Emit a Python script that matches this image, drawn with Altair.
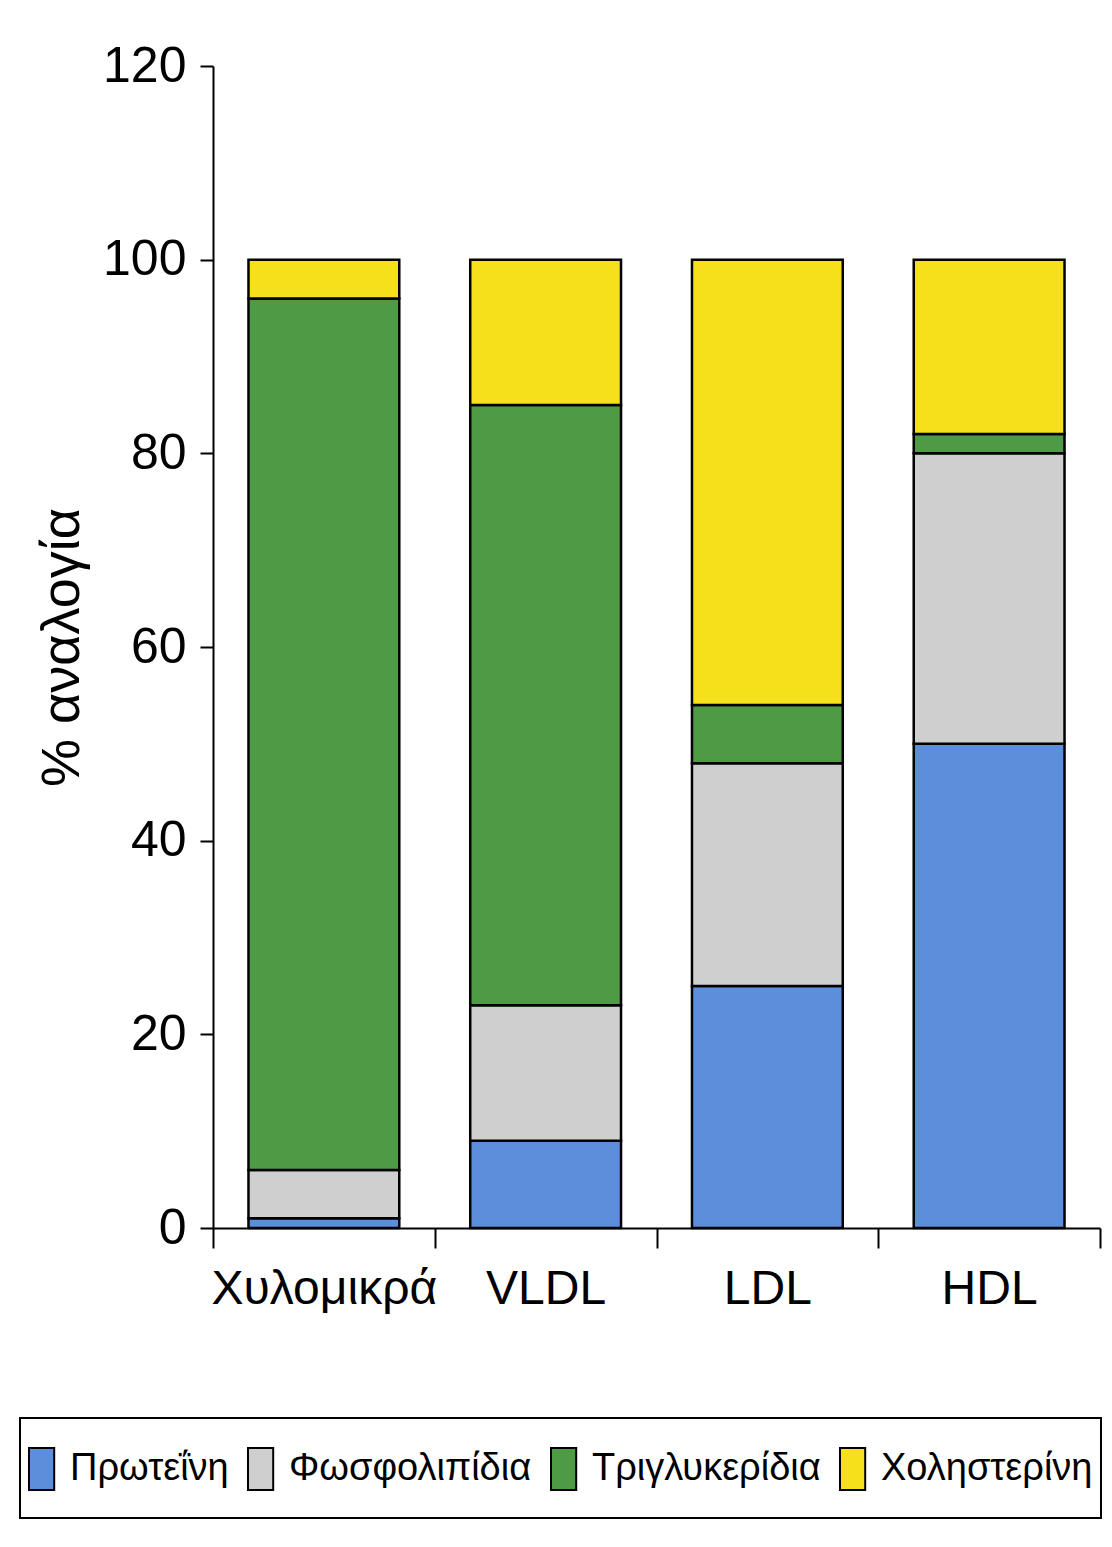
import altair as alt
import pandas as pd

categories = ["Χυλομικρά", "VLDL", "LDL", "HDL"]
components = ["Πρωτεΐνη", "Φωσφολιπίδια", "Τριγλυκερίδια", "Χοληστερίνη"]
protein = [1, 9, 25, 50]
phospholipids = [5, 14, 23, 30]
triglycerides = [90, 62, 6, 2]
cholesterol = [4, 15, 46, 18]
colors = ["#5b8fdc", "#cfcfcf", "#4e9a45", "#f6e01c"]
y_ticks = [0, 20, 40, 60, 80, 100, 120]

series = [protein, phospholipids, triglycerides, cholesterol]
rows = []
for ci, comp in enumerate(components):
    for ki, cat in enumerate(categories):
        rows.append({"cat": cat, "comp": comp, "value": series[ci][ki], "order": ci})
df = pd.DataFrame(rows)

FONT = "Liberation Sans, Arial, sans-serif"

chart = alt.Chart(df).mark_bar(
    stroke="black", strokeWidth=2.5, width=alt.RelativeBandSize(0.68)
).encode(
    x=alt.X("cat:N", sort=categories,
            scale=alt.Scale(paddingInner=0, paddingOuter=0),
            axis=alt.Axis(title=None, labelAngle=0, tickBand="extent",
                          tickSize=20, tickWidth=2, domainWidth=2,
                          domainColor="black", tickColor="black",
                          labelFont=FONT, labelFontSize=48, labelColor="black",
                          labelLimit=400, labelPadding=17)),
    y=alt.Y("value:Q", stack="zero",
            scale=alt.Scale(domain=[0, 120], nice=False),
            axis=alt.Axis(title="% αναλογία", values=y_ticks, grid=False,
                          tickSize=13, tickWidth=2, domainWidth=2,
                          domainColor="black", tickColor="black",
                          labelFont=FONT, labelFontSize=50, labelColor="black",
                          labelPadding=14,
                          titleFont=FONT, titleFontSize=54, titleFontWeight="normal",
                          titleColor="black", titleX=-151, titleY=581,
                          titleAngle=270, titleAlign="center", titleBaseline="middle")),
    color=alt.Color("comp:N", sort=components,
                    scale=alt.Scale(domain=components, range=colors),
                    legend=alt.Legend(title=" ", titleOrient="bottom", titleFontSize=8,
                                      titlePadding=8,
                                      orient="none", direction="horizontal",
                                      columns=4, legendX=-193, legendY=1352,
                                      symbolType="M-1,-0.5H-0.4V0.5H-1Z", symbolSize=7056,
                                      symbolStrokeColor="black", symbolStrokeWidth=2,
                                      symbolOpacity=1,
                                      labelFont=FONT, labelFontSize=38, labelColor="black",
                                      labelLimit=400, labelOffset={"expr": "-44"},
                                      columnPadding=15,
                                      strokeColor="black", padding=8)),
    order=alt.Order("order:Q"),
).properties(
    width=887, height=1162,
    autosize=alt.AutoSizeParams(type="none"),
    padding={"left": 205, "top": 58, "right": 4, "bottom": 300},
).configure_view(stroke=None).configure_legend(
    strokeWidth=2
)

chart.save("out.html", embed_options={"renderer": "svg", "actions": False})
